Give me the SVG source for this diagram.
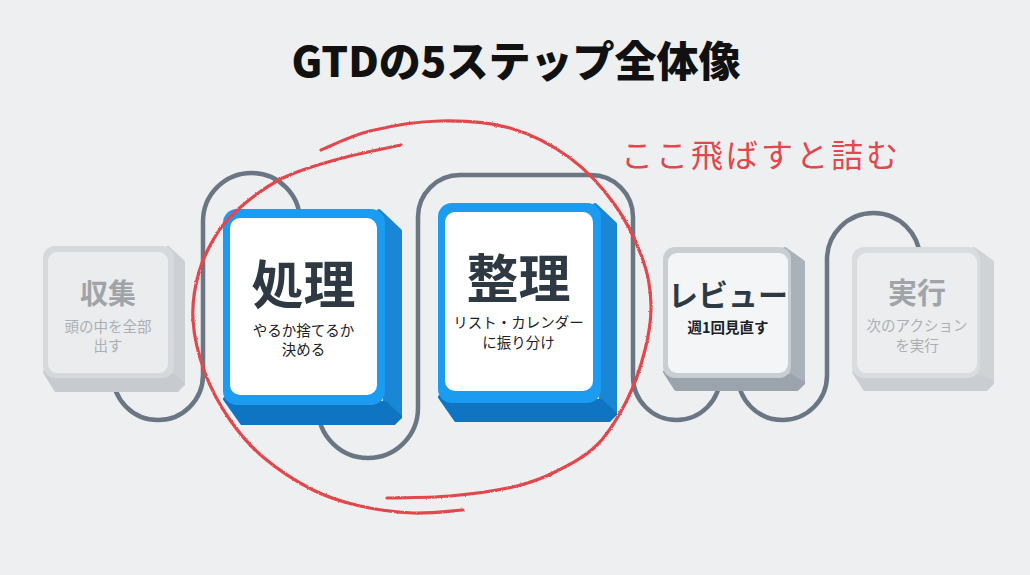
<svg xmlns="http://www.w3.org/2000/svg" width="1030" height="575" viewBox="0 0 1030 575">
<defs>
<filter id="pencil" x="-5%" y="-5%" width="110%" height="110%">
  <feTurbulence type="fractalNoise" baseFrequency="0.8" numOctaves="2" seed="3" result="n"/>
  <feDisplacementMap in="SourceGraphic" in2="n" scale="2.2" xChannelSelector="R" yChannelSelector="G"/>
</filter>
</defs>
<style>
.jp{font-family:"Noto Sans CJK JP","Noto Sans",sans-serif}
.title{font-size:42px;font-weight:900;fill:#111}
.main{font-weight:700;text-anchor:middle}
.sub{text-anchor:middle}
.dark{fill:#2e3944}
.subdark{fill:#1d2228}
.faint{fill:#a0a4a8}
.faintsub{fill:#abafb3}
.line{fill:none;stroke:#6b7684;stroke-width:4.5;stroke-linecap:round}
.side{stroke-width:4;stroke-linejoin:round}
.red{fill:none;stroke:#e2474c;stroke-width:3.2;stroke-linecap:round;stroke-linejoin:round}
</style>
<rect width="1030" height="575" fill="#edeff1"/>
<text class="jp title" x="516" y="77" text-anchor="middle">GTDの5ステップ全体像</text>

<g id="connectors">
  <path class="line" d="M113 375 A45 45 0 0 0 203 375 L203 221.5 A48.5 48.5 0 0 1 300 221.5 L300 240"/>
  <path class="line" d="M318 400 L318 408 A50 50 0 0 0 418 408 L418 217 A42 42 0 0 1 460 175 L591 175 A42 42 0 0 1 633 217 L633 376.5 A43.5 43.5 0 0 0 720 376.5"/>
  <path class="line" d="M738 375.5 A44.5 44.5 0 0 0 827 375.5 L827 259.5 A46.5 46.5 0 0 1 920 259.5 L920 280"/>
</g>

<g id="node-collect">
  <path class="side" d="M168 248 L183 262 L183 384 L174 376 Z" fill="#cdd0d4" stroke="#cdd0d4"/>
  <path class="side" d="M45 372 L174 376 L183 384 L177 390 L56 390 Z" fill="#c7cace" stroke="#c7cace"/>
  <rect x="43" y="246" width="131" height="132" rx="12" fill="#d6d9dc"/>
  <rect x="48" y="252" width="120" height="121" rx="9" fill="#eaecee"/>
  <text class="jp main faint" x="108" y="304" font-size="28">収集</text>
  <text class="jp sub faintsub" x="108" y="332" font-size="14.5">頭の中を全部</text>
  <text class="jp sub faintsub" x="108" y="351" font-size="14.5">出す</text>
</g>

<g id="node-process">
  <path class="side" d="M379 211 L400 231 L400 417 L385 403 Z" fill="#1a86d6" stroke="#1a86d6"/>
  <path class="side" d="M225 399 L385 403 L400 417 L394 423 L242 423 Z" fill="#0f74c2" stroke="#0f74c2"/>
  <rect x="223" y="209" width="162" height="196" rx="14" fill="#1b9cf0"/>
  <rect x="230" y="218" width="147" height="177" rx="10" fill="#ffffff"/>
  <text class="jp main dark" x="303.5" y="304" font-size="52">処理</text>
  <text class="jp sub subdark" x="303.5" y="336" font-size="14.5">やるか捨てるか</text>
  <text class="jp sub subdark" x="303.5" y="355" font-size="14.5">決める</text>
</g>

<g id="node-organize">
  <path class="side" d="M595 205 L615 224 L615 414 L601 401 Z" fill="#1a86d6" stroke="#1a86d6"/>
  <path class="side" d="M440 397 L601 401 L615 414 L609 420 L456 420 Z" fill="#0f74c2" stroke="#0f74c2"/>
  <rect x="438" y="203" width="163" height="200" rx="14" fill="#1b9cf0"/>
  <rect x="445" y="212" width="148" height="179" rx="10" fill="#ffffff"/>
  <text class="jp main dark" x="518.5" y="298" font-size="52">整理</text>
  <text class="jp sub subdark" x="518.5" y="328" font-size="14.5">リスト・カレンダー</text>
  <text class="jp sub subdark" x="518.5" y="348" font-size="14.5">に振り分け</text>
</g>

<g id="node-review">
  <path class="side" d="M785 249 L803 262 L803 383 L791 376 Z" fill="#a9b1b9" stroke="#a9b1b9"/>
  <path class="side" d="M665 372 L791 376 L803 383 L797 389 L676 389 Z" fill="#9ba4ad" stroke="#9ba4ad"/>
  <rect x="663" y="247" width="128" height="131" rx="12" fill="#c9ced3"/>
  <rect x="668" y="253" width="120" height="120" rx="9" fill="#f3f5f6"/>
  <text class="jp main dark" x="728" y="306" font-size="30">レビュー</text>
  <text class="jp sub subdark" x="728" y="333" font-size="14.5" font-weight="700">週1回見直す</text>
</g>

<g id="node-execute">
  <path class="side" d="M974 249 L992 262 L992 383 L980 376 Z" fill="#d0d3d6" stroke="#d0d3d6"/>
  <path class="side" d="M854 372 L980 376 L992 383 L986 389 L865 389 Z" fill="#cacdd1" stroke="#cacdd1"/>
  <rect x="852" y="247" width="128" height="131" rx="12" fill="#d9dcdf"/>
  <rect x="857" y="253" width="120" height="120" rx="9" fill="#ebedef"/>
  <text class="jp main faint" x="917" y="304" font-size="29">実行</text>
  <text class="jp sub faintsub" x="917" y="331" font-size="14.5">次のアクション</text>
  <text class="jp sub faintsub" x="917" y="351" font-size="14.5">を実行</text>
</g>

<g id="annotation">
  <g filter="url(#pencil)">
  <path class="red" d="M321 150 C329.2 146.8 350.2 135.8 370 131 C389.8 126.2 416.7 121.5 440 121 C463.3 120.5 488.3 121.8 510 128 C531.7 134.2 552.5 145.2 570 158 C587.5 170.8 602.8 188 615 205 C627.2 222 637 243.3 643 260 C649 276.7 650.7 290 651 305 C651.3 320 649 334.2 645 350 C641 365.8 635 384.2 627 400 C619 415.8 609 433 597 445 C585 457 569 465 555 472 C541 479 530.5 483 513 487 C495.5 491 471 494.2 450 496 C429 497.8 397.5 497.7 387 498"/>
  <path class="red" d="M463 510 C454.7 510.5 430.2 513.7 413 513 C395.8 512.3 376.7 509.8 360 506 C343.3 502.2 329.2 498.2 313 490 C296.8 481.8 276.8 468.7 263 457 C249.2 445.3 239.7 434 230 420 C220.3 406 211.2 389.7 205 373 C198.8 356.3 194 336.8 193 320 C192 303.2 194.8 286.7 199 272 C203.2 257.3 210.7 243.2 218 232 C225.3 220.8 232.2 214 243 205 C253.8 196 267.7 185.5 283 178 C298.3 170.5 315.3 165.5 335 160 C354.7 154.5 390 147.5 401 145" stroke-width="2.6"/>
  </g>
  <text class="jp" x="621" y="167" font-size="32" letter-spacing="3" fill="#e2474c">ここ飛ばすと詰む</text>
</g>
</svg>
